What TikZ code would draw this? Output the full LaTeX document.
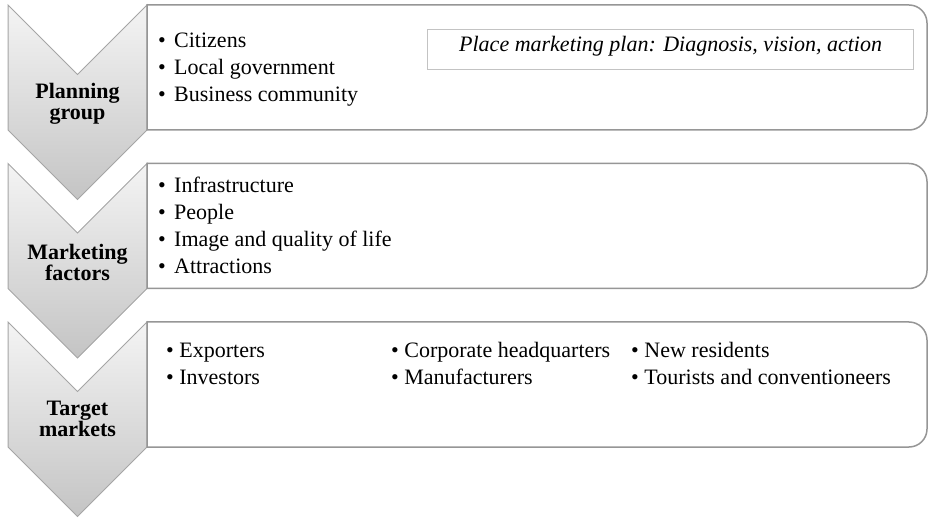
\documentclass[tikz,border=0pt]{standalone}
\usepackage{fontspec}
\setmainfont{Liberation Serif}
\definecolor{chevtop}{RGB}{244,244,244}
\definecolor{chevbot}{RGB}{196,196,196}
\definecolor{chevline}{RGB}{165,165,165}
\definecolor{boxline}{RGB}{150,150,150}
\definecolor{planline}{RGB}{195,195,195}
\tikzset{
  chevron/.style={draw=chevline, line width=1pt, top color=chevtop, bottom color=chevbot},
  rowbox/.style={draw=boxline, line width=1.5pt, fill=white},
  steplabel/.style={font=\fontsize{22}{21}\selectfont\bfseries, align=center, inner sep=0pt},
  itemtext/.style={font=\fontsize{22}{27}\selectfont, align=left, anchor=base west, inner sep=0pt},
}
\newcommand{\bul}{\makebox[16pt][l]{\textbullet}}
\begin{document}
\begin{tikzpicture}[x=1pt,y=1pt]
\useasboundingbox (0,0) rectangle (929,520);
% chevrons and row boxes
\foreach \s in {0,158.5,317}{
  \draw[chevron] (8,515-\s) -- (77.5,445.5-\s) -- (147,515-\s) -- (147,390-\s) -- (77.5,320.5-\s) -- (8,390-\s) -- cycle;
  \draw[rowbox] (147,390-\s) -- (147,515-\s) -- (909,515-\s) arc[start angle=90,end angle=0,radius=18] -- (927,408-\s) arc[start angle=0,end angle=-90,radius=18] -- cycle;
}
% step labels
\node[steplabel] (plan) at (77.5,416) {Planning\\group};
\node[steplabel] (fact) at (77.5,258) {Marketing\\factors};
\node[steplabel] (targ) at (77.5,101) {Target\\markets};
% row contents (base = last line)
\node[itemtext] (planitems) at (158,418) {\bul Citizens\\\bul Local government\\\bul Business community};
\node[draw=planline, line width=1.2pt, anchor=north west, minimum width=486pt,
      text height=15pt, text depth=12pt, inner ysep=6.5pt,
      font=\fontsize{22}{27}\selectfont\itshape] (plantitle) at (427,491) {Place marketing plan: Diagnosis, vision, action};
\node[itemtext] (factitems) at (158,246) {\bul Infrastructure\\\bul People\\\bul Image and quality of life\\\bul Attractions};
\node[itemtext] (targa) at (166,136) {\textbullet\ Exporters\\\textbullet\ Investors};
\node[itemtext] (targb) at (391,136) {\textbullet\ Corporate headquarters\\\textbullet\ Manufacturers};
\node[itemtext] (targc) at (631,136) {\textbullet\ New residents\\\textbullet\ Tourists and conventioneers};
\end{tikzpicture}
\end{document}
